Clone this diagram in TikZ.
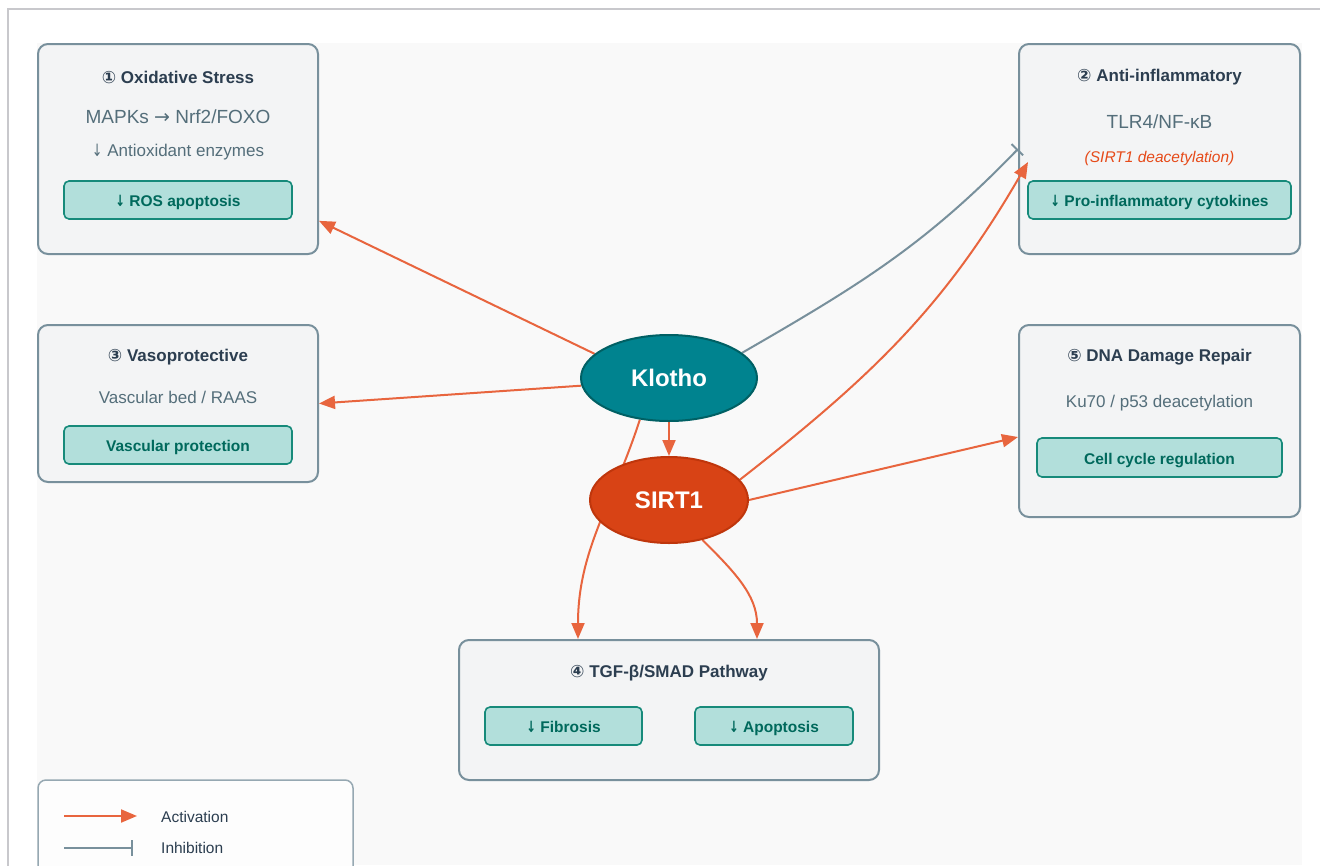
\documentclass[tikz,border=0pt]{standalone}
\usepackage{fontspec}
\setmainfont{Liberation Sans}
\newfontfamily\symfont{DejaVu Sans}
\usetikzlibrary{shapes.geometric,arrows.meta}
\definecolor{panelborder}{RGB}{120,144,156}
\definecolor{panelfill}{RGB}{243,244,245}
\definecolor{titlecol}{RGB}{44,62,80}
\definecolor{graytext}{RGB}{84,110,122}
\definecolor{innerfill}{RGB}{178,223,219}
\definecolor{innerborder}{RGB}{22,138,122}
\definecolor{innertext}{RGB}{0,105,92}
\definecolor{redtext}{RGB}{230,74,25}
\definecolor{klothofill}{RGB}{0,131,143}
\definecolor{klothoborder}{RGB}{0,96,100}
\definecolor{sirtfill}{RGB}{216,67,21}
\definecolor{sirtborder}{RGB}{191,54,12}
\definecolor{actcol}{RGB}{232,101,62}
\definecolor{inhcol}{RGB}{120,144,156}
\definecolor{bgcol}{RGB}{249,249,249}
\definecolor{framecol}{RGB}{200,200,204}
\definecolor{legendborder}{RGB}{150,168,178}
\newcommand{\dnarrow}{{\symfont\scalebox{0.75}[1]{↓}}}
\newcommand{\rtarrow}{{\symfont →}}
\pgfdeclarelayer{bg}
\pgfdeclarelayer{panels}
\pgfdeclarelayer{edges}
\pgfsetlayers{bg,panels,edges,main}
\tikzset{
  panel/.style={draw=panelborder, fill=panelfill, line width=2pt, rounded corners=10pt, inner sep=0pt},
  legendbox/.style={draw=legendborder, fill=white!60!bgcol, line width=1.5pt, rounded corners=8pt, inner sep=0pt},
  resultbox/.style={draw=innerborder, fill=innerfill, line width=1.6pt, rounded corners=5pt, inner sep=0pt,
    text=innertext, font=\fontsize{15.5}{18}\selectfont\bfseries, text height=13pt, text depth=0pt},
  titletext/.style={text=titlecol, font=\fontsize{17}{20}\selectfont\bfseries, inner sep=0pt},
  maintext/.style={text=graytext, font=\fontsize{19}{22}\selectfont, inner sep=0pt},
  subtext/.style={text=graytext, font=\fontsize{17}{20}\selectfont, inner sep=0pt},
  notetext/.style={text=redtext, font=\fontsize{15.5}{18}\selectfont\itshape, inner sep=0pt},
  legendtext/.style={text=titlecol, font=\fontsize{15.5}{18}\selectfont, inner sep=0pt, anchor=west},
  hub/.style={ellipse, inner sep=0pt, line width=2pt, text=white, font=\fontsize{24}{28}\selectfont\bfseries},
  act/.style={draw=actcol, line width=2pt, -{Triangle[length=16pt,width=13pt]}},
  inh/.style={draw=inhcol, line width=2pt, -{Bar[width=16pt,line width=2pt]}},
}
\begin{document}
\begin{tikzpicture}[x=1pt,y=-1pt]
\useasboundingbox (0,0) rectangle (1320,865);
\begin{pgfonlayer}{bg}
  \fill[white] (0,0) rectangle (1320,865);
  \fill[bgcol] (37,43) rectangle (1302,865);
  \draw[framecol, line width=1.5pt] (8,866) -- (8,9) -- (1321,9);
\end{pgfonlayer}

% panels
\begin{pgfonlayer}{panels}
\node[panel, minimum width=280pt, minimum height=210pt] (box1) at (178,149) {};
\node[panel, minimum width=281pt, minimum height=210pt] (box2) at (1159.5,149) {};
\node[panel, minimum width=280pt, minimum height=157pt] (box3) at (178,403.5) {};
\node[panel, minimum width=281pt, minimum height=192pt] (box5) at (1159.5,421) {};
\node[panel, minimum width=420pt, minimum height=140pt] (box4) at (669,710) {};
\node[legendbox, minimum width=315pt, minimum height=110pt] (legend) at (195.5,835) {};
\end{pgfonlayer}

% box 1
\node[titletext] (t1) at (178,77) {{\symfont ①} Oxidative Stress};
\node[maintext] (l1a) at (178,117) {MAPKs \rtarrow\ Nrf2/FOXO};
\node[subtext] (l1b) at (178,152) {\dnarrow\ Antioxidant enzymes};
\node[resultbox, minimum width=228pt, minimum height=38pt] (r1) at (178,200) {\dnarrow\ ROS apoptosis};

% box 2
\node[titletext] (t2) at (1159.5,77) {{\symfont ②} Anti-inflammatory};
\node[maintext] (l2a) at (1159.5,122) {TLR4/NF-κB};
\node[notetext] (l2b) at (1159.5,158) {(SIRT1 deacetylation)};
\node[resultbox, minimum width=263pt, minimum height=38pt] (r2) at (1159.5,200) {\dnarrow\ Pro-inflammatory cytokines};

% box 3
\node[titletext] (t3) at (178,357) {{\symfont ③} Vasoprotective};
\node[subtext] (l3a) at (178,397) {Vascular bed / RAAS};
\node[resultbox, minimum width=228pt, minimum height=38pt] (r3) at (178,445) {Vascular protection};

% box 5
\node[titletext] (t5) at (1159.5,357) {{\symfont ⑤} DNA Damage Repair};
\node[subtext] (l5a) at (1159.5,403) {Ku70 / p53 deacetylation};
\node[resultbox, minimum width=245pt, minimum height=39pt] (r5) at (1159.5,457.5) {Cell cycle regulation};

% box 4
\node[titletext] (t4) at (669,673) {{\symfont ④} TGF-β/SMAD Pathway};
\node[resultbox, minimum width=157pt, minimum height=38pt] (r4a) at (563.5,726) {\dnarrow\ Fibrosis};
\node[resultbox, minimum width=158pt, minimum height=38pt] (r4b) at (774,726) {\dnarrow\ Apoptosis};

% hubs
\node[hub, fill=klothofill, draw=klothoborder, minimum width=176pt, minimum height=86pt] (klotho) at (669,378) {Klotho};
\node[hub, fill=sirtfill, draw=sirtborder, minimum width=158pt, minimum height=86pt] (sirt) at (669,500) {SIRT1};

% legend
\coordinate (la1) at (64,816);
\coordinate (la2) at (137,816);
\coordinate (li1) at (64,848);
\coordinate (li2) at (133,848);
\node[legendtext] (lat) at (161,817) {Activation};
\node[legendtext] (lit) at (161,848) {Inhibition};

\begin{pgfonlayer}{edges}
  \draw[act] (klotho.162) -- (box1.-27);
  \draw[act] (klotho.185) -- (box3.east);
  \draw[act] (klotho.south) -- (sirt.north);
  \draw[inh] (klotho.19) to[out=30,in=226] (box2.west);
  \draw[act] (sirt.16) to[out=38,in=240] ([xshift=10pt,yshift=-13pt]box2.west);
  \draw[act] (sirt.east) -- ([yshift=-16pt]box5.west);
  \draw[act] (klotho.235) to[out=-108,in=90] ([xshift=-91pt]box4.north);
  \draw[act] (sirt.-50) to[out=-45,in=90] ([xshift=88pt]box4.north);
  \draw[act] (la1) -- (la2);
  \draw[inh] (li1) -- (li2);
\end{pgfonlayer}
\end{tikzpicture}
\end{document}
